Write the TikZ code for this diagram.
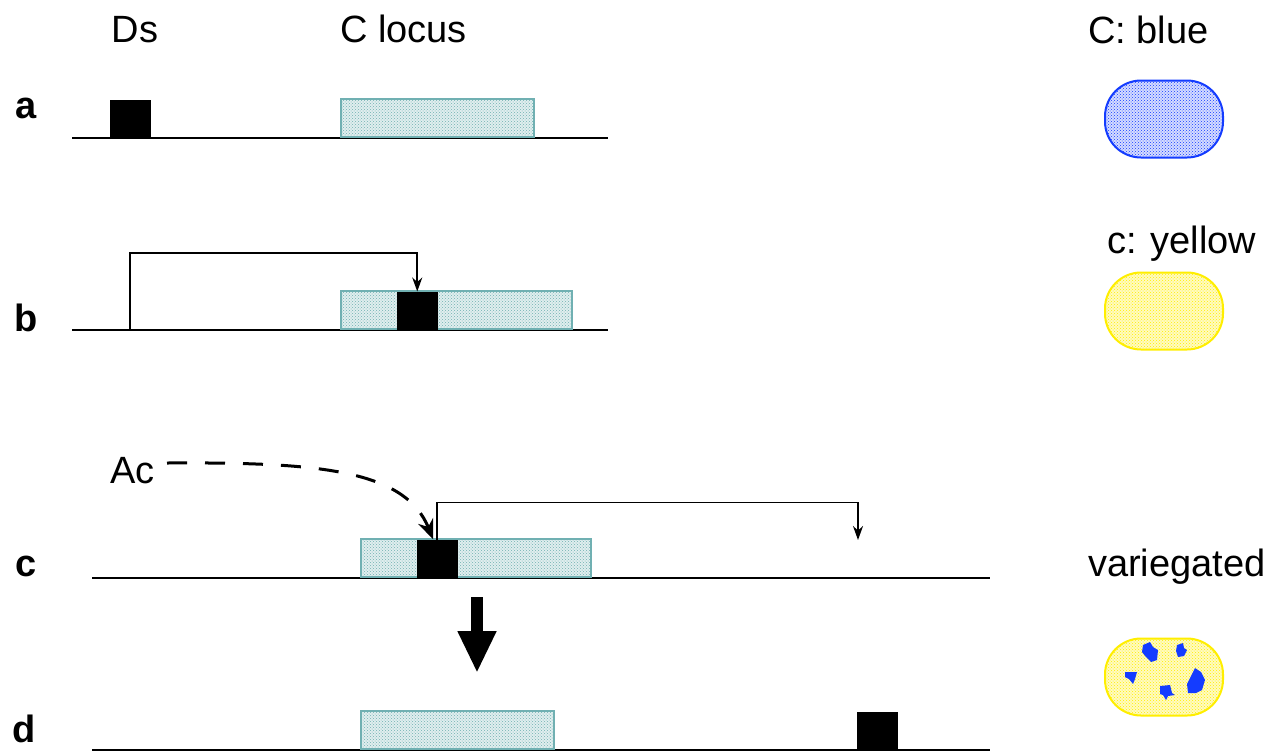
\documentclass[tikz,border=0pt]{standalone}
\usepackage{fontspec}
\setmainfont{Liberation Sans}
\usetikzlibrary{arrows.meta,patterns}

\definecolor{locus}{RGB}{112,176,178}
\definecolor{seedblue}{RGB}{20,60,255}
\definecolor{seedyellow}{RGB}{255,238,0}

\tikzset{
  lbl/.style={font=\fontsize{38}{44}\selectfont,inner sep=0},
  rowlbl/.style={font=\fontsize{38}{44}\selectfont\bfseries,inner sep=0,anchor=base},
  dna/.style={line width=2pt},
  cbox/.style={draw=locus,line width=1.6pt,preaction={fill=locus!22},
    pattern=crosshatch dots,pattern color=locus,
    minimum height=38pt,inner sep=0,anchor=south west},
  dsbox/.style={fill=black,draw=black,line width=0.5pt,minimum width=40pt,
    minimum height=38pt,inner sep=0,anchor=south west},
  insarrow/.style={line width=1.6pt,-{Stealth[width=10pt,length=14pt]}},
  acarrow/.style={line width=3pt,dash pattern=on 20pt off 18pt,
    -{Stealth[width=16pt,length=20pt]}},
  bigarrow/.style={line width=12pt,-{Triangle[width=36pt,length=42pt]}},
  seed/.style={line width=2pt,minimum width=118pt,minimum height=77pt,
    rounded corners=36pt,inner sep=0}
}

\begin{document}
\begin{tikzpicture}[x=1pt,y=-1pt]
\useasboundingbox (0,0) rectangle (1276,753);

% column headings
\node[lbl,anchor=base] (dshead) at (135,42) {Ds};
\node[lbl,anchor=base west] (chead) at (340,42) {C locus};
\node[lbl,anchor=base west] (bluehead) at (1088,43) {C: blue};
\node[lbl,anchor=base west] (yellowhead) at (1107,253) {c: yellow};
\node[lbl,anchor=base west] (varhead) at (1088,576) {variegated};

% row a
\node[rowlbl] (rowa) at (26,118) {a};
\draw[dna] (72,138) -- (608,138);
\node[dsbox] (dsa) at (110,138) {};
\node[cbox,minimum width=193pt] (ca) at (340,138) {};

% row b
\node[rowlbl] (rowb) at (26,331) {b};
\draw[dna] (72,330) -- (608,330);
\node[cbox,minimum width=231pt] (cb) at (340,330) {};
\node[dsbox] (dsb) at (397,330) {};
\coordinate (bfoot) at (130,330);
\draw[insarrow] (bfoot) -- ++(0,-77) -| (dsb.north);

% row c
\node[rowlbl] (rowc) at (26,576) {c};
\draw[dna] (92,578) -- (990,578);
\node[cbox,minimum width=230pt] (cc) at (360,578) {};
\node[dsbox] (dsc) at (417,578) {};
\coordinate (cland) at (858,540);
\draw[insarrow] (dsc.north) -- ++(0,-37) -| (cland);
\node[lbl,anchor=base west] (ac) at (110,483) {Ac};
\coordinate (acstart) at (167,463);
\draw[acarrow] (acstart) .. controls (320,462) and (405,470) .. ([xshift=-4pt]dsc.north);

% transposition step
\coordinate (stepc) at (477,597);
\coordinate (stepd) at (477,673);
\draw[bigarrow] (stepc) -- (stepd);

% row d
\node[rowlbl] (rowd) at (24,742) {d};
\draw[dna] (92,750) -- (990,750);
\node[cbox,minimum width=193pt] (cd) at (360,750) {};
\node[dsbox] (dsd) at (857,750) {};

% kernels
\node[seed,draw=seedblue,preaction={fill=seedblue!18},pattern=crosshatch dots,
  pattern color=seedblue] (kblue) at (1164,119) {};
\node[seed,draw=seedyellow,preaction={fill=seedyellow!25},pattern=crosshatch dots,
  pattern color=seedyellow] (kyellow) at (1164,311) {};
\node[seed,draw=seedyellow,preaction={fill=seedyellow!25},pattern=crosshatch dots,
  pattern color=seedyellow] (kvar) at (1164,677) {};
\fill[seedblue] (1143,645) -- (1150,642) -- (1153,647) -- (1158,650) -- (1157,660)
  -- (1151,662) -- (1146,657) -- (1142,652) -- cycle;
\fill[seedblue] (1177,645) -- (1183,643) -- (1184,648) -- (1187,650) -- (1184,656)
  -- (1178,657) -- (1176,651) -- cycle;
\fill[seedblue] (1125,672) -- (1137,672) -- (1135,679) -- (1133,684) -- (1129,679)
  -- (1125,677) -- cycle;
\fill[seedblue] (1160,686) -- (1170,685) -- (1172,693) -- (1175,695) -- (1168,696)
  -- (1166,700) -- (1163,695) -- (1160,694) -- cycle;
\fill[seedblue] (1195,668) -- (1201,672) -- (1205,680) -- (1202,690) -- (1196,693)
  -- (1188,693) -- (1187,684) -- (1191,676) -- cycle;
\end{tikzpicture}
\end{document}
